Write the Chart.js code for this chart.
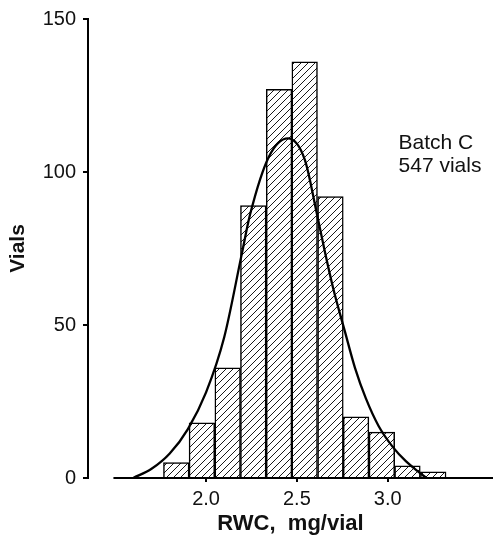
<!DOCTYPE html>
<html>
<head>
<meta charset="utf-8">
<title>RWC distribution, Batch C</title>
<script src="https://cdn.jsdelivr.net/npm/chart.js@4/dist/chart.umd.min.js"></script>
<style>
  html, body { margin: 0; padding: 0; background: #fff; }
  #chart { display: block; }
</style>
</head>
<body>
<canvas id="chart" width="493" height="545"></canvas>
<script>
// histogram bins (RWC, mg/vial) and vial counts
const binCenters = [1.836, 1.977, 2.119, 2.260, 2.402, 2.543, 2.685, 2.826, 2.968, 3.109, 3.251];
const vialCounts = [5, 18, 36, 89, 127, 136, 92, 20, 15, 4, 2];

// fitted distribution curve, sampled
const curveX = [1.599, 1.70, 1.80, 1.90, 2.00, 2.10, 2.196, 2.242, 2.346, 2.451, 2.544, 2.608, 2.654, 2.70, 2.764, 2.82, 2.88, 2.95, 3.03, 3.10, 3.17, 3.214];
const curveY = [0, 3, 8, 16, 28, 46, 73, 86, 105, 111, 104, 87, 74, 62, 48, 36, 26, 17, 10, 5.5, 2, 0];

const xTicks = [2.0, 2.5, 3.0];
const yTicks = [0, 50, 100, 150];
const noteLines = ['Batch C', '547 vials'];

/**
 * Diagonal hatch used to fill the bars.
 */
const makeHatch = () => {
  const size = 7;
  const tile = document.createElement('canvas');
  tile.width = size;
  tile.height = size;
  const g = tile.getContext('2d');
  g.fillStyle = '#fff';
  g.fillRect(0, 0, size, size);
  g.strokeStyle = '#1a1a1a';
  g.lineWidth = 1;
  g.beginPath();
  g.moveTo(0, size); g.lineTo(size, 0);
  g.moveTo(-1, 1); g.lineTo(1, -1);
  g.moveTo(size - 1, size + 1); g.lineTo(size + 1, size - 1);
  g.stroke();
  return g.createPattern(tile, 'repeat');
};

// x baseline starts a little right of the y axis, plus the batch note
const extras = {
  id: 'extras',
  afterDatasetsDraw(chart) {
    const { ctx, chartArea, scales: { x, y } } = chart;
    const y0 = y.getPixelForValue(0);
    ctx.save();
    ctx.strokeStyle = '#000';
    ctx.lineWidth = 2;
    ctx.beginPath();
    ctx.moveTo(x.getPixelForValue(1.49), y0);
    ctx.lineTo(chartArea.right, y0);
    ctx.stroke();

    ctx.fillStyle = '#111';
    ctx.font = '21px "Liberation Sans", Arial, sans-serif';
    ctx.textBaseline = 'alphabetic';
    const nx = x.getPixelForValue(3.06);
    const ny = y.getPixelForValue(107.6);
    noteLines.forEach((line, i) => ctx.fillText(line, nx, ny + i * 23));
    ctx.restore();
  },
};

Chart.defaults.font.family = '"Liberation Sans", Arial, sans-serif';
Chart.defaults.font.size = 20;
Chart.defaults.color = '#111';

new Chart(document.getElementById('chart'), {
  type: 'bar',
  data: {
    datasets: [
      {
        type: 'line',
        data: curveX.map((v, i) => ({ x: v, y: curveY[i] })),
        borderColor: '#000',
        borderWidth: 2.3,
        pointRadius: 0,
        fill: false,
        cubicInterpolationMode: 'monotone',
        order: 0,
      },
      {
        type: 'bar',
        data: binCenters.map((v, i) => ({ x: v, y: vialCounts[i] })),
        backgroundColor: makeHatch(),
        borderColor: '#000',
        borderWidth: 1.5,
        barPercentage: 1,
        categoryPercentage: 1,
        order: 1,
      },
    ],
  },
  options: {
    responsive: false,
    animation: false,
    events: [],
    layout: { padding: { top: 14, right: 0, bottom: 0, left: 0 } },
    plugins: { legend: { display: false }, tooltip: { enabled: false } },
    scales: {
      x: {
        type: 'linear',
        min: 1.35,
        max: 3.58,
        offset: false,
        afterFit: (scale) => { scale.height = 67; },
        afterBuildTicks: (scale) => { scale.ticks = xTicks.map(v => ({ value: v })); },
        ticks: {
          padding: 5,
          callback: (v) => Number(v).toFixed(1),
        },
        grid: {
          offset: false,
          drawOnChartArea: false,
          color: '#000',
          lineWidth: 2,
          tickLength: 4,
        },
        border: { display: false },
        title: {
          display: true,
          text: 'RWC,  mg/vial',
          font: { size: 22, weight: 'bold' },
          padding: { top: 0, bottom: 8 },
        },
      },
      y: {
        min: 0,
        max: 150,
        afterFit: (scale) => { scale.width = 88; },
        afterBuildTicks: (scale) => { scale.ticks = yTicks.map(v => ({ value: v })); },
        ticks: { padding: 7 },
        grid: {
          drawOnChartArea: false,
          color: '#000',
          lineWidth: 2,
          tickLength: 5,
        },
        border: { display: true, color: '#000', width: 2 },
        title: {
          display: true,
          text: 'Vials',
          font: { size: 21, weight: 'bold' },
          padding: { top: 6, bottom: 0 },
        },
      },
    },
  },
  plugins: [extras],
});
</script>
</body>
</html>
